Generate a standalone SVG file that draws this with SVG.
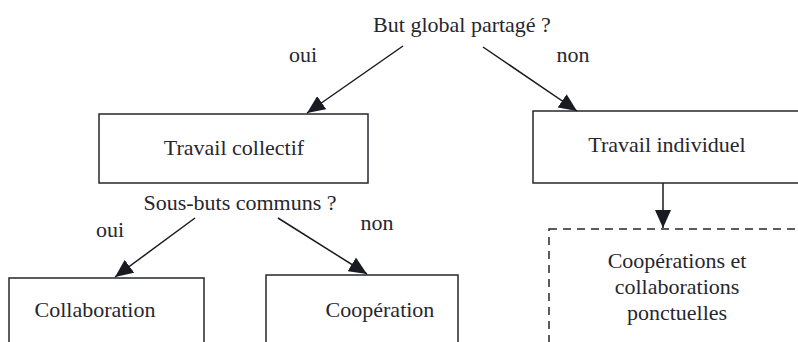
<svg xmlns="http://www.w3.org/2000/svg" width="798" height="342" viewBox="0 0 798 342">
<style>
text{font-family:"Liberation Serif","Times New Roman",serif;font-size:22px;fill:#26262f;text-anchor:middle}
.box{fill:#fff;stroke:#26262f;stroke-width:1.5}
.dash{fill:#fff;stroke:#26262f;stroke-width:1.5;stroke-dasharray:8,6}
.edge{stroke:#1a1a22;stroke-width:1.5;fill:none;marker-end:url(#ah)}
</style>
<defs>
<marker id="ah" markerUnits="userSpaceOnUse" markerWidth="18" markerHeight="16" refX="18" refY="8" orient="auto">
<path d="M0,0 L18,8 L0,16 z" fill="#1a1a22"/>
</marker>
</defs>
<rect width="798" height="342" fill="#fff"/>
<g id="q1"><text x="462" y="32">But global partagé ?</text></g>
<g id="lbl-oui1"><text x="303" y="62">oui</text></g>
<g id="lbl-non1"><text x="573" y="62">non</text></g>
<g id="collectif"><rect class="box" x="99" y="114" width="269" height="69"/><text x="234" y="155">Travail collectif</text></g>
<g id="individuel"><rect class="box" x="533" y="111" width="280" height="72"/><text x="667" y="152">Travail individuel</text></g>
<g id="q2"><text x="240" y="210">Sous-buts communs ?</text></g>
<g id="lbl-oui2"><text x="110" y="237">oui</text></g>
<g id="lbl-non2"><text x="377" y="230">non</text></g>
<g id="collaboration"><rect class="box" x="9" y="278" width="195" height="80"/><text x="95" y="317">Collaboration</text></g>
<g id="cooperation"><rect class="box" x="266" y="275" width="192" height="80"/><text x="380" y="317">Coopération</text></g>
<g id="ponctuelles"><rect class="dash" x="549" y="229" width="270" height="130"/><text x="677" y="268">Coopérations et</text><text x="677" y="294">collaborations</text><text x="677" y="320">ponctuelles</text></g>
<g id="connectors">
<line class="edge" x1="403" y1="46" x2="307" y2="113"/>
<line class="edge" x1="483" y1="47" x2="577" y2="111"/>
<line class="edge" x1="663" y1="183" x2="663" y2="228"/>
<line class="edge" x1="195" y1="218" x2="115" y2="277"/>
<line class="edge" x1="278" y1="218" x2="367" y2="274"/>
</g>
</svg>
